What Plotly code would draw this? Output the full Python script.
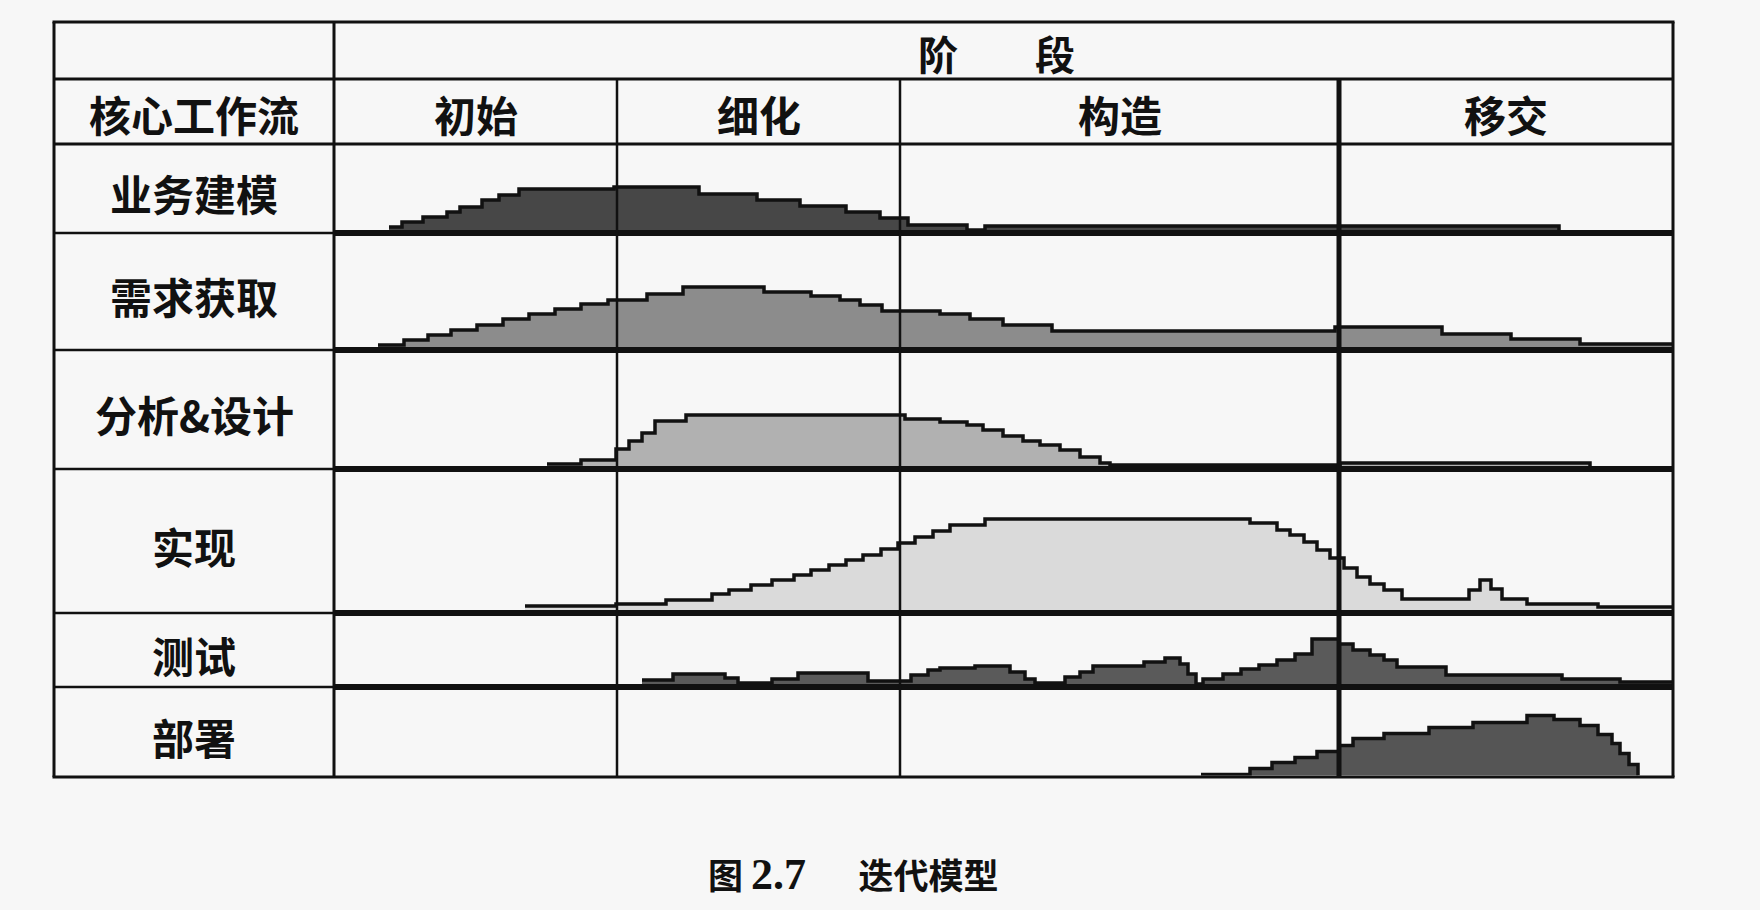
import plotly.graph_objects as go

# ---------------- data ----------------
workflows = ["业务建模", "需求获取", "分析&设计", "实现", "测试", "部署"]
phases = ["初始", "细化", "构造", "移交"]
phase_edges = [0, 283, 566, 1005, 1339]          # time axis: phase boundaries
stage_chars = ["阶", "段"]
corner_title = "核心工作流"
caption_fig = "图"
caption_num = "2.7"
caption_name = "迭代模型"

biz_t = [55, 68, 89, 113, 126, 148, 165, 185, 280, 365, 423, 466, 512, 546, 574, 633, 651, 1225]
biz_h = [3, 8, 13, 18, 23, 30, 35, 41, 43, 36, 30, 24, 18, 12, 5, 0, 4, 0]

req_t = [44, 70, 94, 117, 143, 169, 195, 221, 247, 274, 313, 349, 430, 477, 506, 526, 548,
         606, 636, 669, 718, 1001, 1108, 1177, 1246, 1339]
req_h = [2, 7, 12, 17, 22, 28, 33, 38, 43, 47, 53, 60, 55, 51, 47, 42, 36,
         33, 28, 22, 16, 20, 13, 8, 3, 3]

ana_t = [213, 247, 282, 295, 308, 321, 352, 571, 606, 633, 649, 669, 689, 706, 726, 746, 766,
         776, 1006, 1256]
ana_h = [2, 6, 17, 25, 33, 45, 51, 47, 44, 41, 36, 30, 25, 21, 16, 9, 3, 1, 3, 0]

imp_t = [191, 282, 332, 378, 395, 417, 438, 460, 477, 495, 512, 529, 547, 564, 581, 599, 616,
         651, 916, 943, 956, 970, 983, 996, 1010, 1023, 1036, 1050, 1068, 1135, 1146, 1157,
         1168, 1193, 1264, 1339]
imp_h = [4, 6, 10, 16, 20, 25, 30, 35, 40, 45, 50, 55, 61, 67, 73, 79, 85,
         91, 87, 80, 75, 68, 60, 52, 42, 33, 26, 20, 11, 20, 30, 21,
         11, 6, 3, 3]

test_t = [308, 339, 391, 404, 438, 464, 534, 577, 594, 606, 641, 676, 691, 701, 731, 746, 759,
          810, 831, 846, 854, 862, 869, 889, 907, 925, 943, 961, 978, 1005, 1019, 1036, 1050,
          1063, 1112, 1228, 1286, 1339]
test_h = [4, 10, 6, 1, 5, 11, 3, 9, 14, 16, 18, 12, 5, 1, 7, 12, 18,
          22, 26, 20, 10, 0, 5, 10, 15, 19, 24, 30, 45, 40, 34, 29, 24,
          17, 9, 5, 2, 2]

dep_t = [867, 916, 938, 961, 983, 1005, 1019, 1050, 1095, 1139, 1193, 1220, 1246, 1264, 1278,
         1286, 1295, 1304]
dep_h = [1, 7, 13, 18, 24, 30, 37, 42, 48, 53, 60, 56, 50, 41, 32, 22, 11, 0]

series_t = [biz_t, req_t, ana_t, imp_t, test_t, dep_t]
series_h = [biz_h, req_h, ana_h, imp_h, test_h, dep_h]

# ---------------- layout / style ----------------
W, H = 1760, 910
X_LEFT, X_C1, X_RIGHT = 54, 334, 1673
Y_TOP, Y_H1, Y_H2 = 22, 79, 144
ROW_TOP = [144, 233, 350, 469, 613, 687]
ROW_BOT = [233, 350, 469, 613, 687, 777]
FILLS = ["#474747", "#8c8c8c", "#b1b1b1", "#dadada", "#5a5a5a", "#555555"]
BG = "#f7f7f7"
FONT = "Noto Sans CJK SC"
INK = "#111111"


def px(x):
    return x / W


def py(y):
    return 1 - y / H


fig = go.Figure()

for i, (t, h) in enumerate(zip(series_t, series_h)):
    yname = "y" if i == 0 else f"y{i + 1}"
    fig.add_trace(go.Scatter(
        x=t, y=h, mode="lines", line=dict(shape="hv", color=INK, width=3.5),
        fill="tozeroy", fillcolor=FILLS[i], xaxis="x", yaxis=yname,
        hoverinfo="skip", showlegend=False))

layout_axes = {}
for i in range(6):
    off = 3 if i < 5 else 1.5
    bottom = ROW_BOT[i] - off
    key = "yaxis" if i == 0 else f"yaxis{i + 1}"
    layout_axes[key] = dict(
        domain=[py(bottom), py(ROW_TOP[i])],
        range=[0, bottom - ROW_TOP[i]],
        visible=False, fixedrange=True, anchor="x")

fig.update_layout(
    width=W, height=H, margin=dict(l=0, r=0, t=0, b=0),
    paper_bgcolor=BG, plot_bgcolor="rgba(0,0,0,0)",
    xaxis=dict(domain=[px(X_C1), px(X_RIGHT)], range=[phase_edges[0], phase_edges[-1]],
               visible=False, fixedrange=True),
    **layout_axes)

shapes = []


def hline(x0, x1, y, w):
    shapes.append(dict(type="line", xref="paper", yref="paper",
                       x0=px(x0), x1=px(x1), y0=py(y), y1=py(y),
                       line=dict(color=INK, width=w)))


# outer frame and header lines
hline(X_LEFT - 1.5, X_RIGHT + 1.5, Y_TOP, 3)
hline(X_LEFT, X_RIGHT, Y_H1, 3)
hline(X_LEFT, X_RIGHT, Y_H2, 3)
for i, yb in enumerate(ROW_BOT):
    if i < 5:
        hline(X_LEFT, X_C1, yb, 2.5)
        hline(X_C1, X_RIGHT, yb, 6)
    else:
        hline(X_LEFT - 1.5, X_RIGHT + 1.5, yb, 3)

for x, w, y0 in [(X_LEFT, 3, Y_TOP), (X_C1, 3, Y_TOP), (X_RIGHT, 3, Y_TOP)]:
    shapes.append(dict(type="line", xref="paper", yref="paper",
                       x0=px(x), x1=px(x), y0=py(y0), y1=py(ROW_BOT[-1]),
                       line=dict(color=INK, width=w)))

# phase dividers placed on the time axis
for k, edge in enumerate(phase_edges[1:-1]):
    shapes.append(dict(type="line", xref="x", yref="paper",
                       x0=edge, x1=edge, y0=py(Y_H1), y1=py(ROW_BOT[-1]),
                       line=dict(color=INK, width=5 if k == 2 else 2.5)))

fig.update_layout(shapes=shapes)

ann = []


def label(text, x, y, size=42, xref="paper"):
    ann.append(dict(text=f"<b>{text}</b>", x=x if xref != "paper" else px(x), y=py(y),
                    xref=xref, yref="paper", showarrow=False,
                    xanchor="center", yanchor="middle",
                    font=dict(family=FONT, size=size, color=INK)))


# header
label(stage_chars[0], 938, (Y_TOP + Y_H1) / 2 + 2, size=40)
label(stage_chars[1], 1055, (Y_TOP + Y_H1) / 2 + 2, size=40)
label(corner_title, (X_LEFT + X_C1) / 2, (Y_H1 + Y_H2) / 2 + 2)
for k, name in enumerate(phases):
    mid = (phase_edges[k] + phase_edges[k + 1]) / 2
    label(name, mid, (Y_H1 + Y_H2) / 2 + 2, xref="x")
for i, name in enumerate(workflows):
    label(name, (X_LEFT + X_C1) / 2, (ROW_TOP[i] + ROW_BOT[i]) / 2 + 4)

# caption
ann.append(dict(
    text=(f"<b>{caption_fig} <span style='font-family:Liberation Serif;font-size:44px'>"
          f"{caption_num}</span>\u3000\u2002{caption_name}</b>"),
    x=px(853), y=py(873), xref="paper", yref="paper", showarrow=False,
    xanchor="center", yanchor="middle",
    font=dict(family=FONT, size=35, color=INK)))

fig.update_layout(annotations=ann)

fig.write_html("out.html")
